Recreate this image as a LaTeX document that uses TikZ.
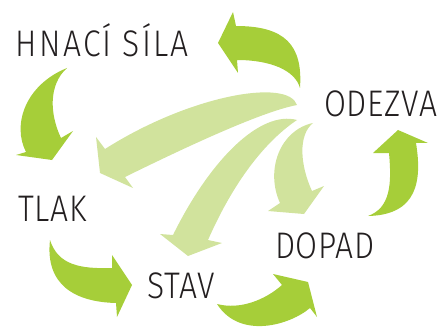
\documentclass[tikz,border=0pt]{standalone}
\usepackage{fontspec}
\IfFontExistsTF{Fira Sans Light}{\setmainfont[FakeStretch=0.86,LetterSpace=2]{Fira Sans Light}}{\setmainfont[FakeStretch=0.86,LetterSpace=2]{Fira Sans}}
\definecolor{leafgreen}{RGB}{166,206,57}
\definecolor{palegreen}{RGB}{209,227,157}
\definecolor{inkgray}{RGB}{35,31,32}
\tikzset{x=1pt, y=-1pt}
\tikzstyle{stage} = [anchor=base west, inner sep=0pt, outer sep=0pt, text=inkgray, font=\fontsize{37}{37}\selectfont]
\tikzstyle{strong} = [fill=leafgreen]
\tikzstyle{weak} = [fill=palegreen]

\begin{document}
\begin{tikzpicture}
	\useasboundingbox (0,0) rectangle (437,329);

	\node [stage] (hnaci) at (16,57) {\addfontfeature{LetterSpace=6}HNACÍ SÍLA};
	\node [stage] (odezva) at (324,117) {ODEZVA};
	\node [stage] (tlak) at (18,221) {TLAK};
	\node [stage] (stav) at (147,298) {STAV};
	\node [stage] (dopad) at (275,258) {DOPAD};

	\fill [weak] (297,105) .. controls (288,78) and (190,95) .. (105,149) -- (96,137) -- (100,173) -- (133,188) -- (125,177) .. controls (180,150) and (260,112) .. cycle;
	\fill [weak] (297,120) .. controls (260,110) and (210,160) .. (173,235) -- (160,234) -- (188,256) -- (222,243) -- (208,240) .. controls (230,190) and (260,145) .. cycle;
	\fill [weak] (313,123) .. controls (280,130) and (265,170) .. (280,203) -- (268,211) -- (304,214) -- (324,186) -- (312,191) .. controls (300,165) and (298,135) .. cycle;

	\fill [strong] (300,88) .. controls (303,45) and (285,26) .. (236,26) -- (233,12) -- (218,43) -- (238,73) -- (237,60) .. controls (270,60) and (295,70) .. cycle;
	\fill [strong] (67,68) .. controls (25,85) and (12,125) .. (26,152) -- (16,155) -- (52,160) -- (73,131) -- (61,138) .. controls (50,115) and (48,85) .. cycle;
	\fill [strong] (50,240) .. controls (58,265) and (80,269) .. (112,268) -- (112,255) -- (132,285) -- (117,317) -- (116,303) .. controls (75,302) and (45,285) .. cycle;
	\fill [strong] (217,304) .. controls (240,310) and (265,300) .. (282,285) -- (273,274) -- (308,282) -- (317,317) -- (310,308) .. controls (290,325) and (240,340) .. cycle;
	\fill [strong] (368,216) .. controls (390,208) and (392,185) .. (389,153) -- (373,153) -- (398,130) -- (428,143) -- (416,143) .. controls (422,180) and (418,215) .. cycle;
\end{tikzpicture}
\end{document}
